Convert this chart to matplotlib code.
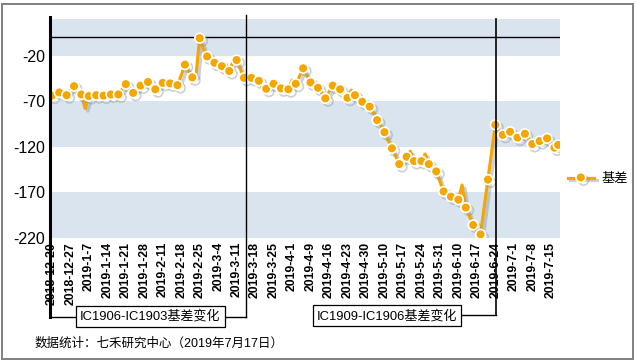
"""Basis chart: IC contract roll (CSI 500 futures), daily basis with marker every other day."""

import matplotlib

matplotlib.use("Agg")

import matplotlib.patheffects as pe  # noqa: E402
import matplotlib.pyplot as plt  # noqa: E402
from matplotlib.patches import Rectangle  # noqa: E402

plt.rcParams["font.family"] = ["Liberation Sans", "Noto Sans CJK SC"]

# ------------------------------------------------------------------
# Data
# ------------------------------------------------------------------
series_name = "基差"

basis = [
    -64, -58, -60.5, -62, -63.5, -58, -53.6, -60, -62.7, -78,
    -64.5, -64, -63.5, -64, -64, -60, -62.7, -63, -62.7, -57,
    -51.4, -56, -61, -57, -53, -51, -49, -53, -57, -53,
    -50, -50, -50.6, -51, -52.5, -42, -30, -37, -44, -42,
    -1, -12, -21, -24, -28, -30, -31.7, -29, -37, -27,
    -25, -35, -44.5, -44, -44.5, -46, -47.8, -56, -56.5, -54,
    -51, -53, -56, -56, -57, -47, -51, -43, -34, -42,
    -49.5, -52, -55.4, -61, -67, -60, -53, -55, -57, -62,
    -66.4, -58, -63.5, -67, -70.7, -73, -76, -83, -90.8, -97,
    -104, -113, -121.7, -130, -139, -135, -131, -125, -135.7, -136,
    -135.7, -128, -139, -143, -147, -158, -169, -172, -174.7, -176,
    -178, -162, -186.7, -196, -205.7, -212, -216, -186, -156, -126,
    -96, -104, -107, -105, -103.6, -108, -110, -108, -105.8, -112,
    -117, -115, -113.8, -112, -110.8, -116, -121, -118,
]

tick_labels = [
    "2018-12-20", "2018-12-27", "2019-1-7", "2019-1-14", "2019-1-21",
    "2019-1-28", "2019-2-11", "2019-2-18", "2019-2-25", "2019-3-4",
    "2019-3-11", "2019-3-18", "2019-3-25", "2019-4-1", "2019-4-9",
    "2019-4-16", "2019-4-23", "2019-4-30", "2019-5-10", "2019-5-17",
    "2019-5-24", "2019-5-31", "2019-6-10", "2019-6-17", "2019-6-24",
    "2019-7-1", "2019-7-8", "2019-7-15",
]
tick_step = 5

y_ticks = [-220, -170, -120, -70, -20]
bands = [(-220, -170), (-120, -70), (-20, 20)]

roll_pos = [52.6, 120.2]
roll_text = ["IC1906-IC1903基差变化", "IC1909-IC1906基差变化"]
roll_text_x = [26.6, 90.7]

footer = "数据统计：七禾研究中心（2019年7月17日）"

# ------------------------------------------------------------------
# Figure
# ------------------------------------------------------------------
W, H = 637, 363
ORANGE = "#F3A700"
BAND = "#DAE4EF"

fig = plt.figure(figsize=(W / 100, H / 100), dpi=100)
ax = fig.add_axes([50 / W, 125 / H, 510 / W, 219 / H])

n = len(basis)
x = list(range(n))

for lo, hi in bands:
    ax.axhspan(lo, hi, color=BAND, lw=0, zorder=0)
ax.axhline(0, color="black", lw=1, zorder=1)

ax.plot(
    x, basis, color=ORANGE, lw=2.3, marker="o", markersize=7,
    markerfacecolor=ORANGE, markeredgecolor="white", markeredgewidth=1.2,
    markevery=list(range(0, n, 2)) + [n - 1], label=series_name, zorder=3,
    path_effects=[
        pe.SimpleLineShadow(offset=(2, -2), shadow_color="#8e99a6", alpha=0.45),
        pe.Normal(),
    ],
)

ax.set_xlim(-0.5, n - 0.5)
ax.set_ylim(-220, 20)
for side in ax.spines.values():
    side.set_visible(False)

ax.set_yticks(y_ticks)
ax.set_yticklabels([str(v) for v in y_ticks], fontsize=11.5)
ax.set_xticks(range(0, tick_step * len(tick_labels), tick_step))
ax.set_xticklabels(tick_labels, rotation=90, fontsize=8.8, fontweight="bold")
ax.tick_params(axis="y", length=0, pad=3.6)
ax.tick_params(axis="x", length=0, pad=2.8)

# left axis line and bracket connectors, drawn in (data x, axes y)
tr = ax.get_xaxis_transform()
ax.plot([-0.5, -0.5], [1.009, -0.361], color="black", lw=2.2,
        transform=tr, clip_on=False, zorder=4)
ax.plot([-0.5, roll_pos[0]], [-0.361, -0.361], color="black", lw=1,
        transform=tr, clip_on=False, zorder=4)
ax.plot([roll_pos[0], roll_pos[0]], [1.018, -0.361], color="black", lw=1,
        transform=tr, clip_on=False, zorder=4)
ax.plot([roll_text_x[1], roll_pos[1]], [-0.352, -0.352], color="black", lw=1,
        transform=tr, clip_on=False, zorder=4)
ax.plot([roll_pos[1], roll_pos[1]], [1.0, -0.352], color="black", lw=1.2,
        transform=tr, clip_on=False, zorder=4)

for tx, ty, label in zip(roll_text_x, [-0.358, -0.355], roll_text):
    ax.text(tx, ty, label, transform=tr, ha="center", va="center",
            fontsize=9.4, zorder=6, clip_on=False,
            bbox=dict(boxstyle="square,pad=0.32", fc="white", ec="black", lw=0.9))

ax.legend(
    loc="center left", bbox_to_anchor=(561 / W, 1 - 179 / H),
    bbox_transform=fig.transFigure, frameon=False, fontsize=9.5,
    handlelength=2.0, handletextpad=0.6, borderpad=0,
)

fig.text(35 / W, 1 - 344 / H, footer, fontsize=9, va="center", ha="left")

fig.patches.append(
    Rectangle((2 / W, 4 / H), 631 / W, 355 / H, transform=fig.transFigure,
              fill=False, ec="#808080", lw=1.4)
)

fig.savefig("out.png", dpi=100)
plt.close(fig)
